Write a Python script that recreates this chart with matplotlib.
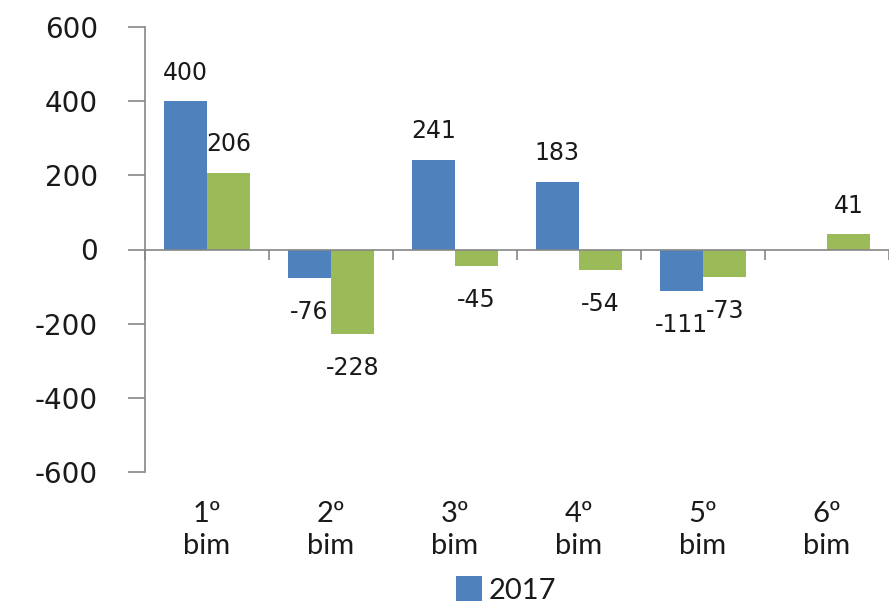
import numpy as np
import matplotlib
matplotlib.use('Agg')
import matplotlib.pyplot as plt

# data
categories = ['1º\nbim', '2º\nbim', '3º\nbim', '4º\nbim', '5º\nbim', '6º\nbim']
vals_2017 = [400, -76, 241, 183, -111, np.nan]
vals_2018 = [206, -228, -45, -54, -73, 41]
yticks = [-600, -400, -200, 0, 200, 400, 600]

blue = '#4F81BD'
green = '#9BBB59'
axis_gray = '#868686'
txt = '#1a1a1a'

fig = plt.figure(figsize=(8.89, 6.07), dpi=100)
ax = fig.add_axes([145/889, 1 - 472/607, 1 - 145/889, (472 - 27)/607])

x = np.arange(len(categories))
w = 0.35
b1 = ax.bar(x - w/2, vals_2017, w, color=blue, label='2017')
b2 = ax.bar(x + w/2, vals_2018, w, color=green, label='2018')

# value labels
for bars, vals in [(b1, vals_2017), (b2, vals_2018)]:
    for rect, v in zip(bars, vals):
        if np.isnan(v):
            continue
        cx = rect.get_x() + rect.get_width()/2
        if v >= 0:
            ax.annotate(f'{v:g}', (cx, v), xytext=(0, 12), textcoords='offset points',
                        ha='center', va='bottom', fontsize=17, color=txt,
                        family='DejaVu Sans')
        else:
            ax.annotate(f'{v:g}', (cx, v), xytext=(0, -16), textcoords='offset points',
                        ha='center', va='top', fontsize=17, color=txt,
                        family='DejaVu Sans')

ax.set_xlim(-0.5, len(categories) - 0.5)
ax.set_ylim(-600, 600)
ax.set_yticks(yticks)
ax.set_yticklabels([str(t) for t in yticks], fontsize=20, color=txt, family='DejaVu Sans')
ax.tick_params(axis='y', length=12, width=1.2, color=axis_gray, pad=22)

# category axis sits on zero, ticks at boundaries
ax.spines['bottom'].set_position(('data', 0))
ax.spines['bottom'].set_color(axis_gray)
ax.spines['bottom'].set_linewidth(1.2)
ax.spines['left'].set_color(axis_gray)
ax.spines['left'].set_linewidth(1.2)
ax.spines['top'].set_visible(False)
ax.spines['right'].set_visible(False)
ax.set_xticks(np.arange(len(categories) + 1) - 0.5)
ax.set_xticklabels([])
ax.tick_params(axis='x', length=7, width=1.2, color=axis_gray, direction='out')

# category labels below the plot area
for i, c in enumerate(categories):
    ax.text(i, -0.065, c, transform=ax.get_xaxis_transform(), ha='center', va='top',
            fontsize=21, family='Lato', color=txt, linespacing=1.3)

fig.legend(handles=[b1], labels=['2017'], loc='center',
           bbox_to_anchor=(506/889, 0.028), frameon=False,
           prop={'family': 'Lato', 'size': 21}, handlelength=0.9, handleheight=0.9,
           handletextpad=0.2, labelcolor=txt, borderpad=0.2)

plt.savefig('out.png', dpi=100)
plt.close(fig)
